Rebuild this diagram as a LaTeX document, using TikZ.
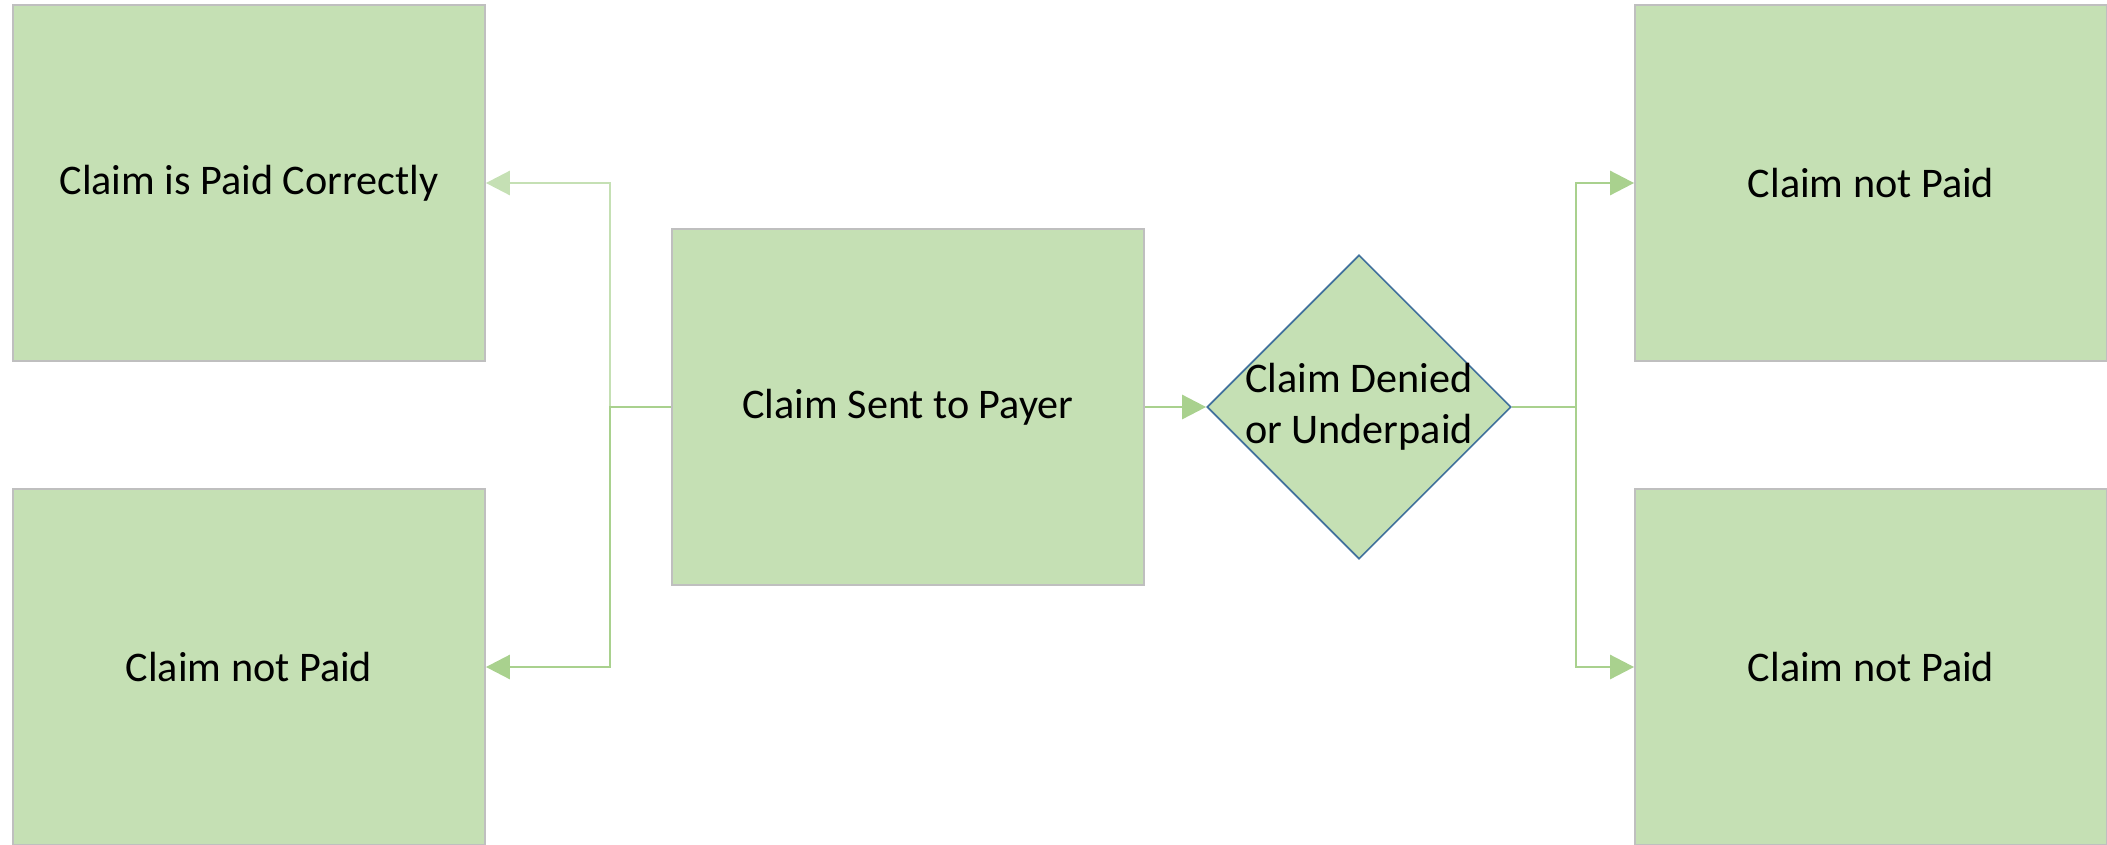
\documentclass[tikz,border=0pt]{standalone}
\usepackage{fontspec}
\setmainfont{Carlito}
\usetikzlibrary{shapes.geometric,arrows.meta}
\definecolor{boxgreen}{HTML}{C5E0B4}
\definecolor{boxgray}{HTML}{BFBFBF}
\definecolor{linkgreen}{HTML}{A9D18E}
\definecolor{diablue}{HTML}{41719C}

\begin{document}
\begin{tikzpicture}[x=0.025cm,y=-0.025cm,
  box/.style={draw=boxgray,line width=1.2pt,fill=boxgreen,inner sep=0pt,
    minimum width=11.8cm,minimum height=8.9cm,font=\fontsize{30}{36.6}\selectfont},
  decision/.style={shape=diamond,aspect=1,draw=diablue,line width=1.2pt,
    fill=boxgreen,inner sep=0pt,minimum size=7.6cm},
  link/.style={draw=linkgreen,line width=2pt,-{Triangle[length=0.6cm,width=0.6cm]}},
  lightlink/.style={link,draw=boxgreen}]
\useasboundingbox (0,0) rectangle (2107,844);
\draw (249,183) node[box] (paid) {Claim is Paid Correctly};
\draw (249,667) node[box] (lnp) {Claim not Paid};
\draw (908,407) node[box] (sent) {Claim Sent to Payer};
\draw (1359,407) node[decision,label={[align=left,font=\fontsize{30}{36.6}\selectfont]center:{Claim Denied\\or Underpaid}}] (denied) {};
\draw (1871,183) node[box] (rnp1) {Claim not Paid};
\draw (1871,667) node[box] (rnp2) {Claim not Paid};
% junctions
\coordinate (lj) at (610,407);
\coordinate (rj) at (1576,407);
\draw[lightlink] (sent.west) -- (lj) |- (paid.east);
\draw[link] (sent.west) -- (lj) |- (lnp.east);
\draw[link] (sent.east) -- (denied.west);
\draw[link] (denied.east) -- (rj) |- (rnp1.west);
\draw[link] (denied.east) -- (rj) |- (rnp2.west);
%\draw (rj) -- (1576,183);
\end{tikzpicture}
\end{document}
